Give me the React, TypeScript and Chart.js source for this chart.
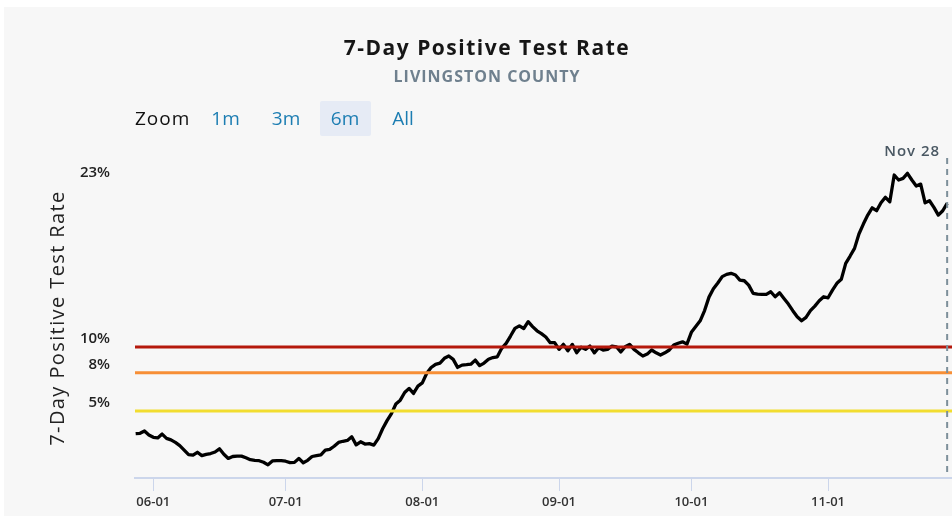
import React, { useEffect, useRef } from "react";
import { Chart, registerables } from "chart.js";

Chart.register(...registerables);

// ---- data ----
const chartTitle = "7-Day Positive Test Rate";
const chartSubtitle = "LIVINGSTON COUNTY";
const yAxisTitle = "7-Day Positive Test Rate";
const startDate = "2020-05-28";
const endDateLabel = "Nov 28";
const rates = [
  3.23, 3.26, 3.44, 3.13, 2.95, 2.9, 3.2, 2.87, 2.75, 2.55,
  2.3, 1.95, 1.6, 1.55, 1.78, 1.52, 1.62, 1.68, 1.8, 2.05,
  1.62, 1.3, 1.45, 1.48, 1.48, 1.35, 1.2, 1.15, 1.12, 1.0,
  0.8, 1.1, 1.12, 1.12, 1.08, 0.97, 0.99, 1.3, 0.96, 1.15,
  1.45, 1.52, 1.58, 1.95, 2.01, 2.25, 2.55, 2.64, 2.7, 2.99,
  2.36, 2.6, 2.42, 2.45, 2.34, 2.85, 3.62, 4.25, 4.8, 5.55,
  5.85, 6.45, 6.77, 6.38, 6.95, 7.2, 7.95, 8.4, 8.65, 8.75,
  9.12, 9.3, 9.04, 8.41, 8.59, 8.62, 8.66, 8.98, 8.55, 8.75,
  9.05, 9.18, 9.24, 9.9, 10.29, 10.86, 11.46, 11.66, 11.45, 11.98,
  11.6, 11.27, 11.05, 10.78, 10.34, 10.34, 9.82, 10.21, 9.71, 10.21,
  9.55, 9.98, 9.82, 10.08, 9.55, 9.95, 9.77, 9.82, 10.08, 10.02,
  9.61, 10.02, 10.21, 9.82, 9.55, 9.3, 9.45, 9.77, 9.55, 9.38,
  9.55, 9.77, 10.16, 10.3, 10.41, 10.23, 11.15, 11.6, 12.05, 12.85,
  13.9, 14.55, 15.0, 15.5, 15.68, 15.76, 15.63, 15.23, 15.18, 14.84,
  14.2, 14.14, 14.12, 14.12, 14.32, 13.93, 14.24, 13.8, 13.36, 12.84,
  12.37, 12.05, 12.32, 12.84, 13.2, 13.62, 13.93, 13.85, 14.45, 14.98,
  15.29, 16.54, 17.11, 17.71, 18.83, 19.61, 20.31, 20.88, 20.65, 21.27,
  21.7, 21.35, 23.44, 23.05, 23.18, 23.57, 23.05, 22.58, 22.73, 21.27,
  21.43, 20.91, 20.31, 20.65, 21.23,
];
const xTickDates = ["2020-06-01", "2020-07-01", "2020-08-01", "2020-09-01", "2020-10-01", "2020-11-01"];
const yTickValues = [5, 8, 10, 23];
const thresholdValues = [10, 8, 5];
const thresholdColors = ["#b5190c", "#f78f36", "#f2dd30"];
const zoomOptions = ["1m", "3m", "6m", "All"];
const selectedZoom = "6m";

// ---- helpers ----
const DAY = 86400000;
const baseTime = Date.parse(xTickDates[0]);
const dayOf = (s: string) => Math.round((Date.parse(s) - baseTime) / DAY);
const firstDay = dayOf(startDate);
const points = rates.map((v, i) => ({ x: firstDay + i, y: v }));
const lastDay = points[points.length - 1].x;
const xMin = firstDay - 0.15;
const xMax = lastDay + 1.1;

const FONT = "'Open Sans', sans-serif";

const decorations = {
  id: "decorations",
  afterDatasetsDraw(chart: any) {
    const { ctx, chartArea, scales } = chart;
    const px = scales.x.getPixelForValue(lastDay);
    ctx.save();
    ctx.strokeStyle = "#7d8f9a";
    ctx.lineWidth = 2;
    ctx.setLineDash([6, 5]);
    ctx.beginPath();
    ctx.moveTo(px, chartArea.top);
    ctx.lineTo(px, chartArea.bottom - 4);
    ctx.stroke();
    ctx.setLineDash([]);
    ctx.fillStyle = "#4a5863";
    ctx.font = `600 15px ${FONT}`;
    (ctx as any).letterSpacing = "1px";
    ctx.textAlign = "right";
    ctx.textBaseline = "middle";
    ctx.fillText(endDateLabel, px - 7, chartArea.top - 6);
    ctx.restore();

    // y-axis title
    ctx.save();
    ctx.translate(54, (chartArea.top + chartArea.bottom) / 2);
    ctx.rotate(-Math.PI / 2);
    ctx.fillStyle = "#222222";
    ctx.font = `400 20px ${FONT}`;
    (ctx as any).letterSpacing = "1.4px";
    ctx.textAlign = "center";
    ctx.textBaseline = "middle";
    ctx.fillText(yAxisTitle, 0, 0);
    ctx.restore();
  },
};

export default function App() {
  const canvasRef = useRef<HTMLCanvasElement | null>(null);

  useEffect(() => {
    if (!canvasRef.current) return;
    const thresholdSets = thresholdValues.map((t, i) => ({
      data: [
        { x: xMin, y: t },
        { x: xMax, y: t },
      ],
      borderColor: thresholdColors[i],
      borderWidth: 3,
      pointRadius: 0,
      order: 0,
    }));
    const chart = new Chart(canvasRef.current, {
      type: "line",
      data: {
        datasets: [
          ...thresholdSets,
          {
            data: points,
            borderColor: "#000000",
            borderWidth: 3.3,
            pointRadius: 0,
            borderJoinStyle: "round",
            order: 1,
          },
        ],
      },
      options: {
        animation: false,
        responsive: false,
        layout: { padding: { top: 151, left: 0, right: 0, bottom: 0 } },
        plugins: {
          legend: { display: false },
          tooltip: { enabled: false },
          title: { display: false },
        },
        scales: {
          x: {
            type: "linear",
            min: xMin,
            max: xMax,
            afterBuildTicks: (s: any) => {
              s.ticks = xTickDates.map((d) => ({ value: dayOf(d) }));
            },
            afterFit: (s: any) => {
              s.height = 38;
            },
            ticks: {
              autoSkip: false,
              maxRotation: 0,
              padding: 3,
              color: "#333333",
              font: { family: FONT, size: 13, weight: "600" },
              callback: (_v: any, i: number) => xTickDates[i].slice(5),
            },
            grid: {
              display: true,
              drawOnChartArea: false,
              drawTicks: true,
              tickLength: 13,
              color: "#ccd6eb",
              lineWidth: 1,
            },
            border: { display: true, color: "#ccd6eb", width: 2 },
          },
          y: {
            type: "linear",
            min: -0.23,
            max: 24.77,
            afterBuildTicks: (s: any) => {
              s.ticks = yTickValues.map((v) => ({ value: v }));
            },
            afterFit: (s: any) => {
              s.width = 131;
            },
            ticks: {
              padding: 25,
              labelOffset: -8,
              color: "#222222",
              font: { family: FONT, size: 15, weight: "600" },
              callback: (v: any) => `${v}%`,
            },
            grid: { display: false, drawTicks: false },
            border: { display: false },
          },
        },
      },
      plugins: [decorations],
    } as any);
    return () => chart.destroy();
  }, []);

  const zoomCenters = [221.5, 282, 341, 399];

  return (
    <div
      style={{
        position: "absolute",
        left: 4,
        top: 7,
        width: 948,
        height: 509,
        background: "#f7f7f7",
        overflow: "hidden",
      }}
    >
      <canvas ref={canvasRef} width={948} height={509} style={{ display: "block" }} />
      <div
        style={{
          position: "absolute",
          left: 0,
          top: 26,
          width: 966,
          textAlign: "center",
          height: 28,
          lineHeight: "28px",
          fontFamily: FONT,
          fontWeight: 700,
          fontSize: 21,
          letterSpacing: "1.5px",
          color: "#161616",
          whiteSpace: "nowrap",
        }}
      >
        {chartTitle}
      </div>
      <div
        style={{
          position: "absolute",
          left: 0,
          top: 58,
          width: 966,
          textAlign: "center",
          height: 22,
          lineHeight: "22px",
          fontFamily: FONT,
          fontWeight: 700,
          fontSize: 16,
          letterSpacing: "1px",
          color: "#6f808e",
          whiteSpace: "nowrap",
        }}
      >
        {chartSubtitle}
      </div>
      <div
        style={{
          position: "absolute",
          left: 131,
          top: 94,
          height: 35,
          lineHeight: "35px",
          fontFamily: FONT,
          fontSize: 19,
          letterSpacing: "1px",
          color: "#111111",
        }}
      >
        Zoom
      </div>
      {zoomOptions.map((z, i) => (
        <div
          key={z}
          style={{
            position: "absolute",
            left: zoomCenters[i] - 25.5,
            top: 94,
            width: 51,
            height: 35,
            lineHeight: "35px",
            textAlign: "center",
            fontFamily: FONT,
            fontSize: 19,
            color: "#1c7db2",
            background: z === selectedZoom ? "#e6ebf5" : "transparent",
            borderRadius: 2,
          }}
        >
          {z}
        </div>
      ))}
    </div>
  );
}
